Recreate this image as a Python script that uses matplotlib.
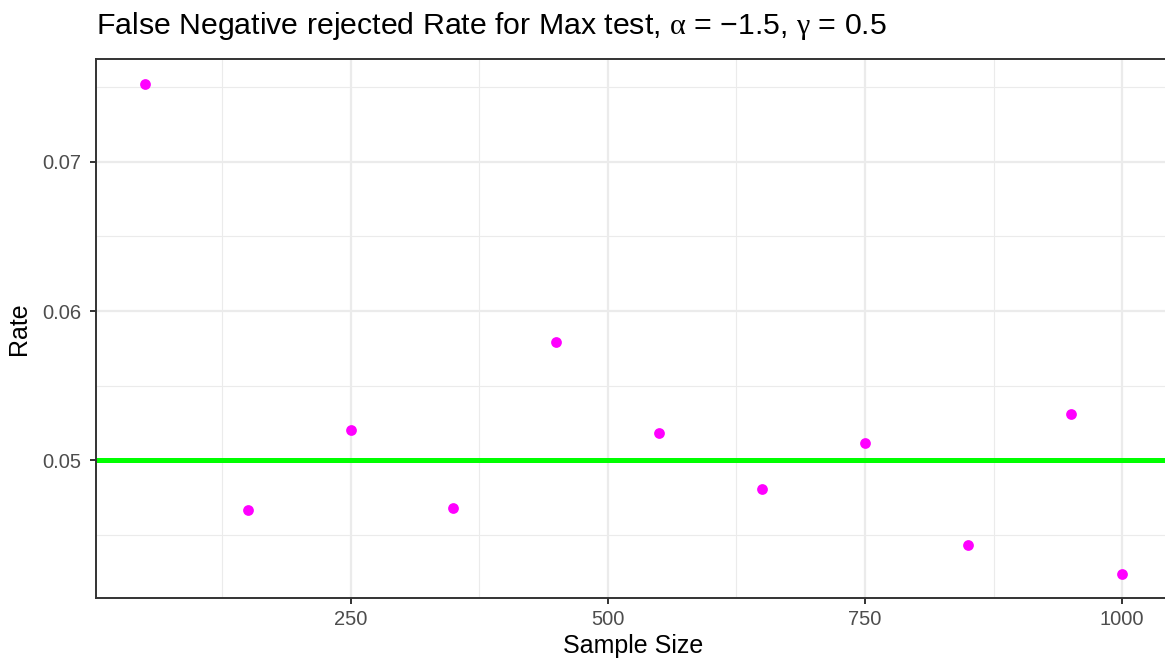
import matplotlib
matplotlib.use("Agg")
import matplotlib.pyplot as plt
from matplotlib.ticker import FixedLocator

plt.rcParams["font.family"] = ["Liberation Sans", "DejaVu Sans"]
plt.rcParams["mathtext.fontset"] = "custom"
plt.rcParams["mathtext.rm"] = "Liberation Serif"
plt.rcParams["mathtext.it"] = "Liberation Serif"

# Simulation results
sample_size = [50, 150, 250, 350, 450, 550, 650, 750, 850, 950, 1000]
rate = [0.07522, 0.04672, 0.05207, 0.04679, 0.05796, 0.05187,
        0.04806, 0.05120, 0.04438, 0.05314, 0.04244]
nominal_level = 0.05

x_major = [250, 500, 750, 1000]
x_minor = [125, 375, 625, 875]
y_major = [0.05, 0.06, 0.07]
y_minor = [0.045, 0.055, 0.065, 0.075]

W, H = 1165, 660
fig = plt.figure(figsize=(W / 100, H / 100), dpi=100)
ax = fig.add_axes([96 / W, 1 - 598 / H, (1171 - 96) / W, (598 - 59) / H])

# ggplot-like expansion of the data range
xr = max(sample_size) - min(sample_size)
yr = max(rate) - min(rate)
ax.set_xlim(min(sample_size) - 0.05 * xr, max(sample_size) + 0.05 * xr)
ax.set_ylim(min(rate) - 0.05 * yr, max(rate) + 0.05 * yr)

grid_col = "#EBEBEB"
ax.xaxis.set_major_locator(FixedLocator(x_major))
ax.yaxis.set_major_locator(FixedLocator(y_major))
ax.xaxis.set_minor_locator(FixedLocator(x_minor))
ax.yaxis.set_minor_locator(FixedLocator(y_minor))
ax.set_yticklabels([f"{v:.2f}" for v in y_major])
ax.grid(True, which="major", color=grid_col, linewidth=1.6, zorder=0)
ax.grid(True, which="minor", color=grid_col, linewidth=0.8, zorder=0)
ax.set_axisbelow(True)

ax.axhline(nominal_level, color="#00FF00", linewidth=3.6, zorder=2)
ax.scatter(sample_size, rate, s=60, color="#FF00FF", linewidths=0, zorder=3)

for sp in ax.spines.values():
    sp.set_color("#333333")
    sp.set_linewidth(1.4)

ax.tick_params(which="major", length=4.5, width=1.4, color="#333333",
               labelsize=14.5, labelcolor="#4D4D4D", pad=4)
ax.tick_params(axis="y", which="major", pad=6)
ax.tick_params(which="minor", length=0)

ax.set_xlabel("Sample Size", fontsize=18, color="black", labelpad=4)
ax.set_ylabel("Rate", fontsize=18, color="black", labelpad=8)

fig.text(96 / W, 1 - 34 / H,
         r"False Negative rejected Rate for Max test, $\alpha$ = −1.5, $\gamma$ = 0.5",
         fontsize=21.8, color="black", ha="left", va="baseline")

fig.savefig("out.png", dpi=100, facecolor="white")
